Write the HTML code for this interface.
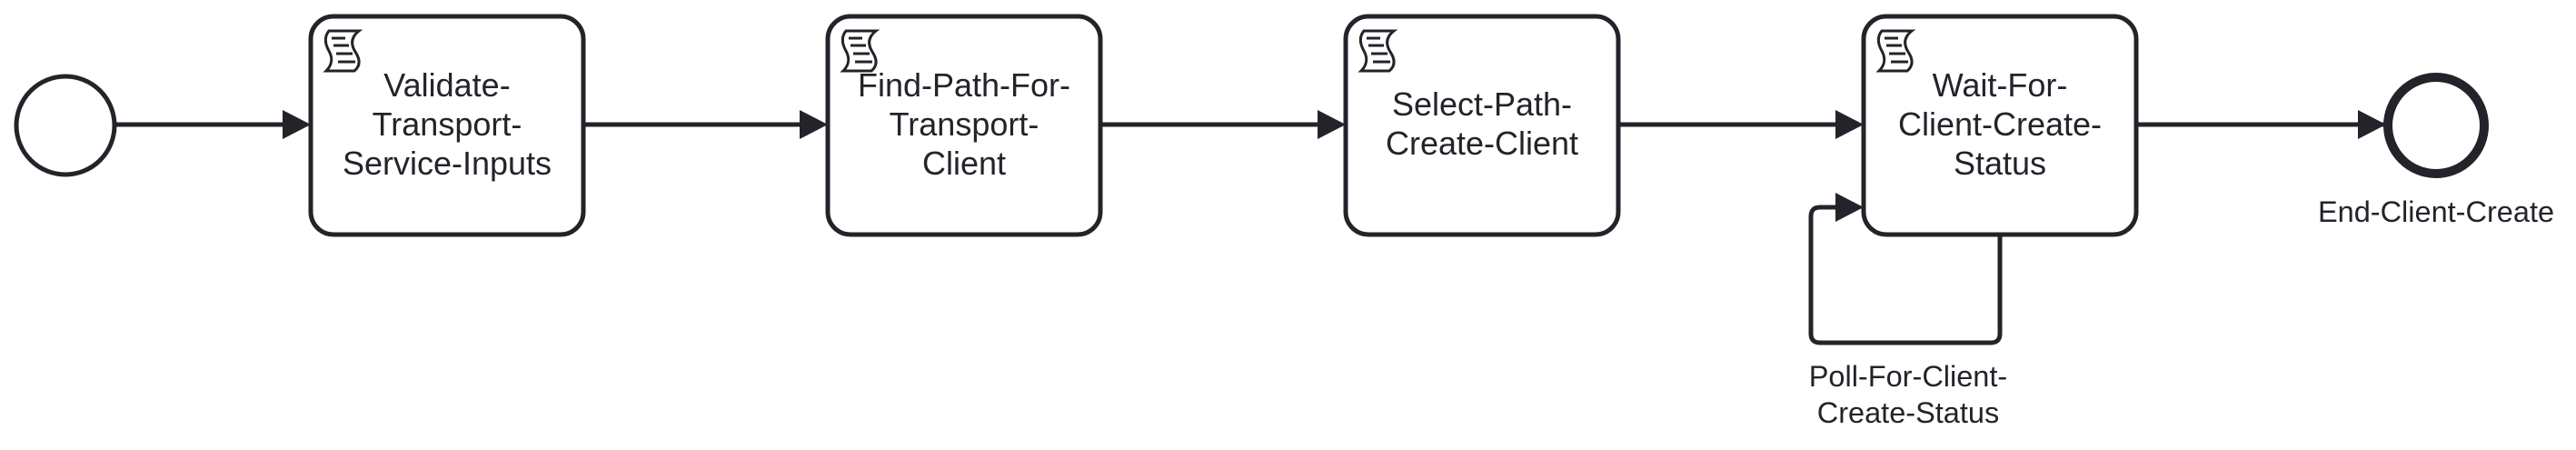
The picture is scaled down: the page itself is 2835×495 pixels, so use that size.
<!DOCTYPE html>
<html><head><meta charset="utf-8"><style>
html,body{margin:0;padding:0;background:#fff;}
svg{display:block;}
text{font-family:"Liberation Sans",sans-serif;fill:#22242a;text-anchor:middle;}
</style></head><body>
<svg width="2835" height="495" viewBox="0 0 2835 495" xmlns="http://www.w3.org/2000/svg">
<defs>
<g id="icon" fill="none" stroke="#22242a" stroke-width="3">
<path d="M4,1 L37,1 C28,8 28,16 33,24 C39,33 38,40 32,45 L1,45 C8,38 8,30 4,23 C-1,14 -1,7 4,1 Z"/>
<path d="M7,9 H22 M9,17 H26 M12,26 H30 M14,35 H33"/>
</g>
</defs>
<g stroke="#22242a" stroke-width="5" fill="none">
<circle cx="72" cy="138" r="54"/>
<rect x="342" y="18" width="300" height="240" rx="25"/>
<rect x="911" y="18" width="300" height="240" rx="25"/>
<rect x="1481" y="18" width="300" height="240" rx="25"/>
<rect x="2051" y="18" width="300" height="240" rx="25"/>
<circle cx="2681" cy="138" r="53" stroke-width="10"/>
<path d="M127,137 H314 M644,137 H883 M1213,137 H1453 M1783,137 H2023 M2353,137 H2624"/>
<path d="M2201,258 V367 Q2201,377 2191,377 H2003 Q1993,377 1993,367 V238 Q1993,228 2003,228 H2024"/>
</g>
<g fill="#22242a">
<path d="M311,121 L342,137 L311,153 Z"/>
<path d="M880,121 L911,137 L880,153 Z"/>
<path d="M1450,121 L1481,137 L1450,153 Z"/>
<path d="M2020,121 L2051,137 L2020,153 Z"/>
<path d="M2020,212 L2051,228 L2020,244 Z"/>
<path d="M2595,121 L2626,137 L2595,153 Z"/>
</g>
<use href="#icon" x="358" y="33"/>
<use href="#icon" x="927" y="33"/>
<use href="#icon" x="1497" y="33"/>
<use href="#icon" x="2067" y="33"/>
<g font-size="36">
<text x="492" y="106">Validate-</text>
<text x="492" y="149">Transport-</text>
<text x="492" y="192">Service-Inputs</text>
<text x="1061" y="106">Find-Path-For-</text>
<text x="1061" y="149">Transport-</text>
<text x="1061" y="192">Client</text>
<text x="1631" y="127">Select-Path-</text>
<text x="1631" y="170">Create-Client</text>
<text x="2201" y="106">Wait-For-</text>
<text x="2201" y="149">Client-Create-</text>
<text x="2201" y="192">Status</text>
</g>
<g font-size="32.5">
<text x="2681" y="244">End-Client-Create</text>
<text x="2100" y="425">Poll-For-Client-</text>
<text x="2100" y="465">Create-Status</text>
</g>
</svg>
</body></html>
